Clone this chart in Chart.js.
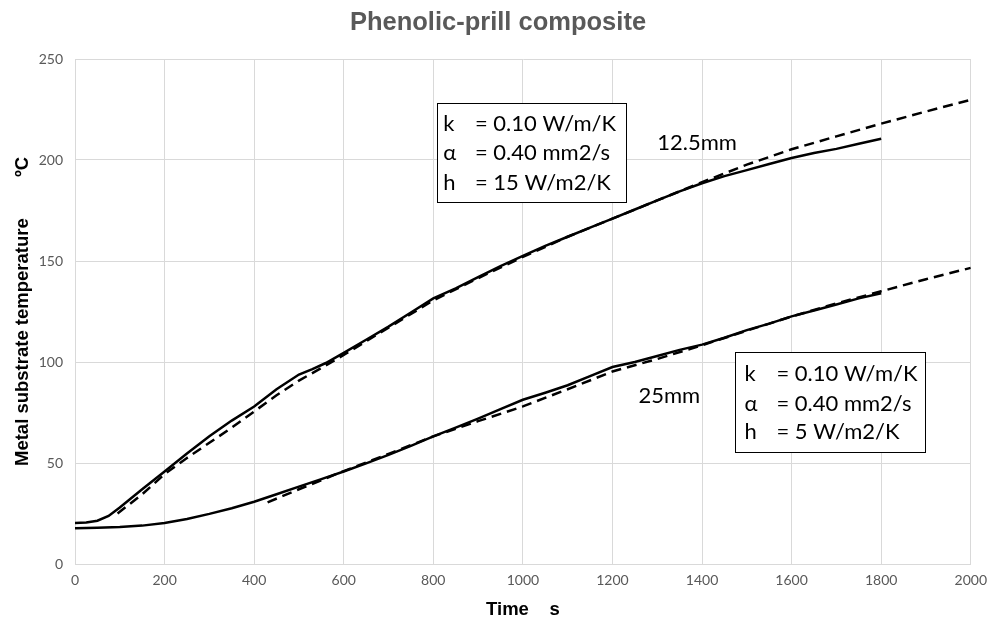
<!DOCTYPE html>
<html>
<head>
<meta charset="utf-8">
<script src="https://cdn.jsdelivr.net/npm/chart.js@4.4.0/dist/chart.umd.min.js"></script>
<style>
  html, body { margin: 0; padding: 0; background: #fff; }
  #chart { display: block; }
</style>
</head>
<body>
<canvas id="chart" width="995" height="626" style="width:995px;height:626px"></canvas>
<script>
// 12.5mm - measured (solid)
const timeMeas125 = [0, 25, 50, 75, 100, 150, 200, 250, 300, 350, 400, 450, 500, 530, 560, 600, 650, 700, 750, 800, 850, 900, 950, 1000, 1050, 1100, 1150, 1200, 1250, 1300, 1350, 1400, 1450, 1500, 1550, 1600, 1650, 1700, 1750, 1800];
const tempMeas125 = [20.3, 20.6, 21.4, 23.8, 28, 37, 45.8, 54.7, 63.2, 71, 78, 86.5, 93.8, 96.5, 99.5, 104.5, 111, 117.5, 124.5, 131.5, 136.5, 142, 147.5, 152.5, 157.5, 162, 166.5, 171, 175.5, 180, 184.5, 188.5, 192, 195, 198, 201, 203.5, 205.5, 208, 210.5];

// 12.5mm - model (dashed)
const timeModel125 = [95, 150, 200, 250, 300, 350, 400, 450, 500, 550, 600, 700, 800, 900, 1000, 1100, 1200, 1300, 1400, 1500, 1600, 1700, 1800, 1900, 2000];
const tempModel125 = [25, 34.5, 44.5, 52.5, 60, 67.5, 75.5, 83.5, 90.8, 97, 103.5, 117, 130.5, 141.5, 152, 162, 171, 180, 189, 197.7, 205.3, 211.7, 218, 224, 229.8];

// 25mm - measured (solid)
const timeMeas25 = [0, 50, 100, 150, 200, 250, 300, 350, 400, 450, 500, 550, 600, 650, 700, 750, 800, 850, 900, 950, 1000, 1050, 1100, 1150, 1200, 1250, 1300, 1350, 1400, 1450, 1500, 1550, 1600, 1650, 1700, 1750, 1800];
const tempMeas25 = [17.7, 18, 18.3, 19, 20.3, 22.3, 24.8, 27.6, 30.8, 34.5, 38.3, 42, 45.8, 49.8, 54, 58.5, 63.2, 67.5, 72, 76.7, 81.3, 84.8, 88.5, 93, 97.5, 100, 103, 106, 108.6, 112, 115.8, 119, 122.6, 125.5, 128.5, 131.5, 134];

// 25mm - model (dashed)
const timeModel25 = [430, 500, 600, 700, 800, 900, 1000, 1100, 1200, 1300, 1400, 1500, 1600, 1700, 1800, 1900, 2000];
const tempModel25 = [30.5, 37, 46, 54.5, 63.2, 70.7, 78, 86.5, 95.3, 101.5, 108.3, 115.5, 122.5, 129, 135, 141, 146.6];

const xTicks = [0, 200, 400, 600, 800, 1000, 1200, 1400, 1600, 1800, 2000];
const yTicks = [0, 50, 100, 150, 200, 250];

const boxLines125 = [['k', '= 0.10 W/m/K'], ['\u03B1', '= 0.40 mm2/s'], ['h', '= 15 W/m2/K']];
const boxLines25 = [['k', '= 0.10 W/m/K'], ['\u03B1', '= 0.40 mm2/s'], ['h', '= 5 W/m2/K']];

function toPoints(xs, ys) {
  return xs.map((x, i) => ({ x: x, y: ys[i] }));
}

const tickFont = { family: 'Lato', size: 14 };
const axisTitleFont = { family: 'Liberation Sans', size: 18.5, weight: 'bold' };
const noteFont = '22px Lato';

// annotation boxes and labels, placed in data units
const notes = {
  box125: { x0: 808, x1: 1230, y0: 228, y1: 179, symX: 822, textX: 893, rows: [218, 203.3, 188.5], lines: boxLines125 },
  box25: { x0: 1473, x1: 1897, y0: 104.8, y1: 55.6, symX: 1495, textX: 1566, rows: [94, 79.2, 65.5], lines: boxLines25 },
  labels: [
    { text: '12.5mm', x: 1300, y: 208.7 },
    { text: '25mm', x: 1258, y: 83.2 }
  ]
};

const notesPlugin = {
  id: 'notes',
  afterDraw(chart) {
    const ctx = chart.ctx;
    const xs = chart.scales.x, ys = chart.scales.y;
    ctx.save();

    // chart title
    ctx.fillStyle = '#595959';
    ctx.font = 'bold 25.5px "Liberation Sans", Arial, sans-serif';
    ctx.textAlign = 'center';
    ctx.textBaseline = 'middle';
    ctx.fillText('Phenolic-prill composite', 498, 23);

    ctx.textAlign = 'left';
    ctx.font = noteFont;
    [notes.box125, notes.box25].forEach(b => {
      const l = Math.round(xs.getPixelForValue(b.x0)) + 0.5;
      const r = Math.round(xs.getPixelForValue(b.x1)) + 0.5;
      const t = Math.round(ys.getPixelForValue(b.y0)) + 0.5;
      const bt = Math.round(ys.getPixelForValue(b.y1)) + 0.5;
      ctx.fillStyle = '#fff';
      ctx.fillRect(l, t, r - l, bt - t);
      ctx.strokeStyle = '#000';
      ctx.lineWidth = 1;
      ctx.strokeRect(l, t, r - l, bt - t);
      ctx.fillStyle = '#000';
      b.lines.forEach((ln, i) => {
        const y = ys.getPixelForValue(b.rows[i]);
        ctx.fillText(ln[0], xs.getPixelForValue(b.symX), y);
        ctx.fillText(ln[1], xs.getPixelForValue(b.textX), y);
      });
    });
    ctx.fillStyle = '#000';
    notes.labels.forEach(lb => {
      ctx.fillText(lb.text, xs.getPixelForValue(lb.x), ys.getPixelForValue(lb.y));
    });
    ctx.restore();
  }
};

const solid = { borderColor: '#000', borderWidth: 2.5, pointRadius: 0, fill: false, tension: 0 };
const dashed = { borderColor: '#000', borderWidth: 2.5, borderDash: [10, 6], pointRadius: 0, fill: false, tension: 0 };

new Chart(document.getElementById('chart'), {
  type: 'line',
  data: {
    datasets: [
      Object.assign({ label: '12.5mm measured', data: toPoints(timeMeas125, tempMeas125) }, solid),
      Object.assign({ label: '12.5mm model', data: toPoints(timeModel125, tempModel125) }, dashed),
      Object.assign({ label: '25mm measured', data: toPoints(timeMeas25, tempMeas25) }, solid),
      Object.assign({ label: '25mm model', data: toPoints(timeModel25, tempModel25) }, dashed)
    ]
  },
  options: {
    responsive: false,
    devicePixelRatio: 1,
    animation: false,
    layout: { padding: { top: 59, right: 20, left: 0, bottom: 0 } },
    plugins: {
      legend: { display: false },
      tooltip: { enabled: false },
      title: { display: false }
    },
    scales: {
      x: {
        type: 'linear',
        min: 0,
        max: 2000,
        afterBuildTicks: s => { s.ticks = xTicks.map(v => ({ value: v })); },
        afterFit: s => { s.height = 62; },
        ticks: { color: '#595959', font: tickFont, padding: 8, maxRotation: 0, callback: v => String(v) },
        grid: { color: '#d9d9d9', lineWidth: 1, drawTicks: false },
        border: { color: '#d9d9d9' },
        title: { display: true, text: 'Time    s', color: '#000', font: axisTitleFont, padding: { top: 4, bottom: 5 } }
      },
      y: {
        min: 0,
        max: 250,
        afterBuildTicks: s => { s.ticks = yTicks.map(v => ({ value: v })); },
        afterFit: s => { s.width = 75; },
        ticks: { color: '#595959', font: tickFont, padding: 12, callback: v => String(v) },
        grid: { color: '#d9d9d9', lineWidth: 1, drawTicks: false },
        border: { color: '#d9d9d9' },
        title: { display: true, text: 'Metal substrate temperature        \u00BAC', color: '#000', font: axisTitleFont, padding: { top: 12, bottom: 0 } }
      }
    }
  },
  plugins: [notesPlugin]
});
</script>
</body>
</html>
